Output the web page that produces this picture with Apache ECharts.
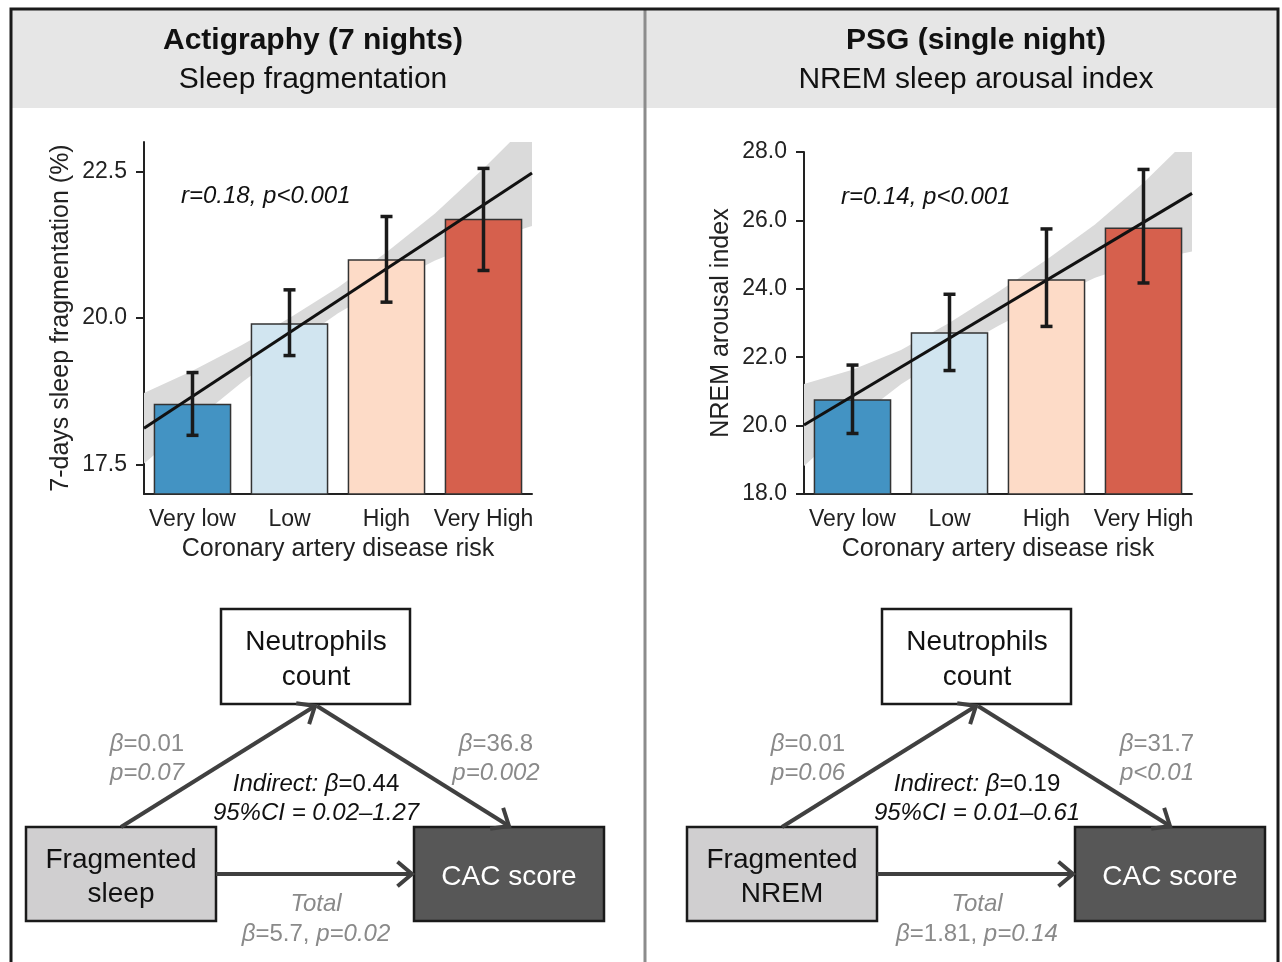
<!DOCTYPE html>
<html>
<head>
<meta charset="UTF-8">
<title>Sleep fragmentation and CAD risk</title>
<script src="https://cdn.jsdelivr.net/npm/echarts@6/dist/echarts.min.js"></script>
<style>
  * {margin: 0; padding: 0;}
  body {background: #fff;}
  #chart {width: 1282px; height: 962px;}
</style>
</head>
<body>
<div id="chart"></div>
<script>
// ---- data ----
var categories = ['Very low', 'Low', 'High', 'Very High'];

// actigraphy: 7-day sleep fragmentation (%)
var actiMean = [18.54, 19.91, 21.00, 21.69];
var actiErrLow = [18.00, 19.36, 20.27, 20.81];
var actiErrHigh = [19.07, 20.48, 21.73, 22.55];
var actiTicks = [17.5, 20.0, 22.5];
var fitX = [-0.5, 3.5];
var actiFitY = [18.12, 22.47];
var bandX = [-0.5, 0, 0.5, 1, 1.5, 2, 2.5, 3, 3.5];
var actiBandLow = [17.52, 18.22, 18.89, 19.50, 20.08, 20.56, 20.98, 21.31, 21.57];
var actiBandHigh = [18.72, 19.10, 19.53, 20.00, 20.52, 21.12, 21.78, 22.55, 23.37];

// PSG: NREM arousal index
var psgMean = [20.77, 22.73, 24.28, 25.79];
var psgErrLow = [19.77, 21.61, 22.90, 24.17];
var psgErrHigh = [21.77, 23.84, 25.75, 27.49];
var psgFitY = [20.02, 26.79];
var psgBandLow = [18.82, 20.11, 21.21, 22.11, 22.91, 23.65, 24.32, 24.80, 25.09];
var psgBandHigh = [21.22, 21.63, 22.21, 23.01, 23.91, 24.85, 25.88, 27.10, 28.49];

var barColors = ['#4393c3', '#d1e5f0', '#fddbc7', '#d6604d'];
var FONT = '"Liberation Sans", Arial, Helvetica, sans-serif';

var chart = echarts.init(document.getElementById('chart'));

function xAxisCat(gridIndex) {
  return {
    type: 'category', gridIndex: gridIndex, data: categories,
    name: 'Coronary artery disease risk', nameLocation: 'middle', nameGap: 43,
    nameTextStyle: {fontSize: 25, color: '#222', fontFamily: FONT},
    axisLine: {onZero: false, lineStyle: {color: '#222', width: 2}},
    axisTick: {alignWithLabel: true, length: 8, lineStyle: {color: '#222', width: 2}},
    axisLabel: {fontSize: 23, color: '#222', fontFamily: FONT, margin: 14, interval: 0}
  };
}
function xAxisFit(gridIndex) {
  return {type: 'value', gridIndex: gridIndex, min: -0.5, max: 3.5, show: false};
}
function yAxisBase(gridIndex, name, min, max) {
  return {
    type: 'value', gridIndex: gridIndex, min: min, max: max, name: name,
    nameLocation: 'middle', nameGap: 70,
    nameTextStyle: {fontSize: 25, color: '#222', fontFamily: FONT},
    splitLine: {show: false},
    axisLine: {show: true, onZero: false, lineStyle: {color: '#222', width: 2}},
    axisTick: {show: true, length: 8, lineStyle: {color: '#222', width: 2}},
    axisLabel: {fontSize: 23, color: '#222', fontFamily: FONT, margin: 17,
      formatter: function (v) { return v.toFixed(1); }}
  };
}

var yActi = yAxisBase(0, '7-days sleep fragmentation (%)', 17, 23);
yActi.axisLabel.customValues = actiTicks;
yActi.axisTick.customValues = actiTicks;
var yPsg = yAxisBase(1, 'NREM arousal index', 18, 28);
yPsg.interval = 2;

function panelSeries(g, mean, lo, hi, fitY, bLo, bHi) {
  var xa = g * 2, xf = g * 2 + 1;
  return [
    {
      // confidence band of the fit, drawn as one polygon through the axis scales
      type: 'custom', xAxisIndex: xf, yAxisIndex: g, z: 1,
      encode: {x: 0, y: [1, 2]},
      data: bandX.map(function (x, i) { return [x, bLo[i], bHi[i]]; }),
      renderItem: function (params, api) {
        if (params.dataIndex !== 0) return null;
        var upper = bandX.map(function (x, i) { return api.coord([x, bHi[i]]); });
        var lower = bandX.map(function (x, i) { return api.coord([x, bLo[i]]); }).reverse();
        var cs = params.coordSys;
        return {
          type: 'group',
          clipPath: {type: 'rect', shape: {x: cs.x, y: cs.y, width: cs.width, height: cs.height}},
          children: [{
            type: 'polygon', shape: {points: upper.concat(lower)},
            style: {fill: '#dadada'}
          }]
        };
      }
    },
    {
      type: 'bar', xAxisIndex: xa, yAxisIndex: g, barWidth: '80%', z: 2,
      data: mean.map(function (v, i) {
        return {value: v, itemStyle: {color: barColors[i]}};
      }),
      itemStyle: {borderColor: '#333', borderWidth: 1.5}
    },
    {
      type: 'line', xAxisIndex: xf, yAxisIndex: g, z: 3, symbol: 'none',
      lineStyle: {color: '#111', width: 3},
      data: fitX.map(function (x, i) { return [x, fitY[i]]; })
    },
    {
      type: 'custom', xAxisIndex: xa, yAxisIndex: g, z: 4,
      encode: {x: 0, y: [1, 2]},
      data: categories.map(function (c, i) { return [i, lo[i], hi[i]]; }),
      renderItem: function (params, api) {
        var p1 = api.coord([api.value(0), api.value(1)]);
        var p2 = api.coord([api.value(0), api.value(2)]);
        var st = {stroke: '#1a1a1a', lineWidth: 3.5};
        return {type: 'group', children: [
          {type: 'line', shape: {x1: p1[0], y1: p1[1], x2: p2[0], y2: p2[1]}, style: st},
          {type: 'line', shape: {x1: p1[0] - 6, y1: p1[1], x2: p1[0] + 6, y2: p1[1]}, style: st},
          {type: 'line', shape: {x1: p2[0] - 6, y1: p2[1], x2: p2[0] + 6, y2: p2[1]}, style: st}
        ]};
      }
    }
  ];
}

// ---- frame, headers and mediation diagrams ----
function txt(x, y, text, size, opt) {
  opt = opt || {};
  return {
    type: 'text', x: x, y: y, z: 10,
    style: {
      text: text, fill: opt.color || '#111', fontSize: size, fontFamily: FONT,
      fontWeight: opt.weight || 'normal', fontStyle: opt.style || 'normal',
      align: opt.align || 'center', verticalAlign: 'middle',
      rich: {i: {fontStyle: 'italic', fontSize: size, fontFamily: FONT, fill: opt.color || '#111'}}
    }
  };
}
function box(x, y, w, h, fill) {
  return {type: 'rect', z: 5, shape: {x: x, y: y, width: w, height: h},
    style: {fill: fill, stroke: '#1a1a1a', lineWidth: 2.5}};
}
function arrow(x1, y1, x2, y2) {
  var a = Math.atan2(y2 - y1, x2 - x1), L = 19, w = 0.7;
  var st = {stroke: '#404040', lineWidth: 4, fill: null};
  return [
    {type: 'line', z: 6, shape: {x1: x1, y1: y1, x2: x2, y2: y2}, style: st},
    {type: 'polyline', z: 6, shape: {points: [
      [x2 - L * Math.cos(a - w), y2 - L * Math.sin(a - w)], [x2, y2],
      [x2 - L * Math.cos(a + w), y2 - L * Math.sin(a + w)]]}, style: st}
  ];
}
function diagram(dx, lab) {
  var grey = '#8a8a8a';
  var els = [
    box(221 + dx, 609, 189, 95, '#fff'),
    box(26 + dx, 827, 190, 94, '#d0cfd0'),
    box(414 + dx, 827, 190, 94, '#575757'),
    txt(316 + dx, 642, 'Neutrophils', 28),
    txt(316 + dx, 677, 'count', 28),
    txt(121 + dx, 860, 'Fragmented', 28),
    txt(121 + dx, 894, lab.src, 28),
    txt(509 + dx, 877, 'CAC score', 28, {color: '#fff'}),
    txt(147 + dx, 744, '{i|β}=' + lab.a, 24, {color: grey}),
    txt(147 + dx, 773, lab.pa, 24, {color: grey, style: 'italic'}),
    txt(496 + dx, 744, '{i|β}=' + lab.b, 24, {color: grey}),
    txt(496 + dx, 773, lab.pb, 24, {color: grey, style: 'italic'}),
    txt(316 + dx, 784, '{i|Indirect: β}=' + lab.ind, 24),
    txt(316 + dx, 813, lab.ci, 24, {style: 'italic'}),
    txt(316 + dx, 904, 'Total', 24, {color: grey, style: 'italic'}),
    txt(316 + dx, 934, '{i|β}=' + lab.tot, 24, {color: grey})
  ];
  return els.concat(arrow(121 + dx, 827, 315 + dx, 706))
    .concat(arrow(317 + dx, 706, 509 + dx, 826))
    .concat(arrow(216 + dx, 874, 412 + dx, 874));
}

var graphics = [
  {type: 'rect', z: 0, shape: {x: 11, y: 9, width: 1267, height: 99}, style: {fill: '#e6e6e6'}},
  {type: 'line', z: 8, shape: {x1: 645, y1: 9, x2: 645, y2: 962}, style: {stroke: '#8c8c8c', lineWidth: 3}},
  {type: 'polyline', z: 9, shape: {points: [[11, 962], [11, 9], [1278, 9], [1278, 962]]},
    style: {stroke: '#1a1a1a', lineWidth: 3, fill: null}},
  txt(313, 41, 'Actigraphy (7 nights)', 30, {weight: 'bold'}),
  txt(313, 80, 'Sleep fragmentation', 30),
  txt(976, 41, 'PSG (single night)', 30, {weight: 'bold'}),
  txt(976, 80, 'NREM sleep arousal index', 30),
  txt(181, 196, 'r=0.18, p<0.001', 24, {style: 'italic', align: 'left'}),
  txt(841, 197, 'r=0.14, p<0.001', 24, {style: 'italic', align: 'left'})
].concat(diagram(0, {src: 'sleep', a: '0.01', pa: 'p=0.07', b: '36.8', pb: 'p=0.002',
  ind: '0.44', ci: '95%CI = 0.02–1.27', tot: '5.7, {i|p=0.02}'}))
 .concat(diagram(661, {src: 'NREM', a: '0.01', pa: 'p=0.06', b: '31.7', pb: 'p<0.01',
  ind: '0.19', ci: '95%CI = 0.01–0.61', tot: '1.81, {i|p=0.14}'}));

var option = {
  animation: false,
  backgroundColor: '#fff',
  textStyle: {fontFamily: FONT},
  grid: [
    {left: 144, top: 142, width: 388, height: 352, outerBoundsMode: 'none'},
    {left: 804, top: 152, width: 388, height: 342, outerBoundsMode: 'none'}
  ],
  xAxis: [xAxisCat(0), xAxisFit(0), xAxisCat(1), xAxisFit(1)],
  yAxis: [yActi, yPsg],
  series: panelSeries(0, actiMean, actiErrLow, actiErrHigh, actiFitY, actiBandLow, actiBandHigh)
    .concat(panelSeries(1, psgMean, psgErrLow, psgErrHigh, psgFitY, psgBandLow, psgBandHigh)),
  graphic: graphics
};
chart.setOption(option);
</script>
</body>
</html>
